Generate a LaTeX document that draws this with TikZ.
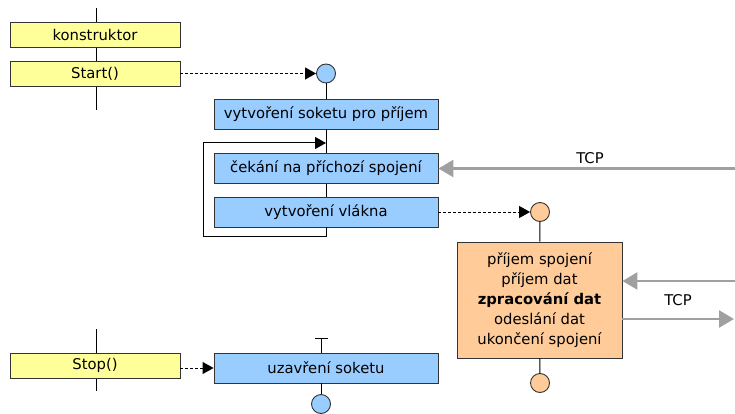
\documentclass[tikz,border=0pt]{standalone}
\usepackage{fontspec}
\setmainfont{DejaVu Sans}
\usetikzlibrary{positioning,arrows.meta}
\definecolor{yfill}{HTML}{FFFF99}
\definecolor{bfill}{HTML}{99CCFF}
\definecolor{ofill}{HTML}{FFCC99}
\definecolor{tcpgray}{HTML}{A0A0A0}
\definecolor{edge}{HTML}{333333}

\begin{document}
\begin{tikzpicture}[x=1pt,y=-1pt,
		every node/.style={font=\fontsize{14.8}{20}\selectfont},
		box/.style={draw=edge,line width=0.9pt,inner sep=0pt},
		ybox/.style={box,fill=yfill,minimum width=170pt,minimum height=25pt},
		bbox/.style={box,fill=bfill,minimum width=224pt,minimum height=30pt},
		obox/.style={box,fill=ofill,minimum width=165pt,minimum height=116pt,align=center},
		port/.style={circle,draw=edge,line width=0.9pt,minimum size=19pt,inner sep=0pt},
		call/.style={densely dashed,line width=0.9pt,-{Triangle[length=11pt,width=12pt]}},
		tcp/.style={tcpgray,line width=2.6pt,-{Triangle[length=15pt,width=17pt]}},
		life/.style={line width=1pt}]
	\useasboundingbox (0,0) rectangle (735,414);
	% lifelines behind the boxes
	\draw[life] (96,8) -- (96,110);
	\draw[life] (96,329) -- (96,391);
	%
	\node[ybox] (konstr) at (95,34.5) {konstruktor};
	\node[ybox] (start) at (95,73.5) {Start()};
	\node[ybox] (stop) at (95,365.5) {Stop()};
	%
	\node[port,fill=bfill] (c1) at (326,73.5) {};
	\node[bbox] (soket) at (326,114) {vytvoření soketu pro příjem};
	\node[bbox] (cekani) at (326,168.5) {čekání na příchozí spojení};
	\node[bbox] (vlakno) at (326,212) {vytvoření vlákna};
	\node[bbox] (uzavr) at (326,368) {uzavření soketu};
	\node[port,fill=bfill] (c4) at (321,404) {};
	\coordinate (bar) at (321,338);
	%
	\node[port,fill=ofill] (c2) at (540,212) {};
	\node[obox] (vlaknobox) at (539.5,300) {příjem spojení\\příjem dat\\\textbf{zpracování dat}\\odeslání dat\\ukončení spojení};
	\node[port,fill=ofill] (c3) at (540,383) {};
	%
	\draw[life] (c1) -- (soket);
	\draw[life] (soket) -- (cekani);
	\draw[life] (cekani) -- (vlakno);
	\draw[life,-{Triangle[length=11pt,width=12pt]}] (vlakno.south) |- (203,236) |- (soket.south |- 0,143);
	\draw[life] (c2) -- (vlaknobox);
	\draw[life] (vlaknobox) -- (c3);
	\draw[life] (bar) -- (bar |- uzavr.north);
	\draw[life] ([xshift=-6pt]bar) -- ([xshift=7pt]bar);
	\draw[life] (c4) -- (c4 |- uzavr.south);
	%
	\draw[call] (start.east) -- (c1.west);
	\draw[call] (vlakno.east) -- (c2.west);
	\draw[call] (stop.east |- uzavr.west) -- (uzavr.west);
	%
	\coordinate (tcp1) at (735,168.5);
	\coordinate (tcp2) at (735,281);
	\coordinate (tcp3) at (734,319);
	\draw[tcp] (tcp1) -- (cekani.east);
	\draw[tcp] (tcp2) -- (tcp2 -| vlaknobox.east);
	\draw[tcp] (tcp3 -| vlaknobox.east) -- (tcp3);
	\node (lbl1) at (590,158) {TCP};
	\node (lbl2) at (678,300) {TCP};
\end{tikzpicture}
\end{document}
